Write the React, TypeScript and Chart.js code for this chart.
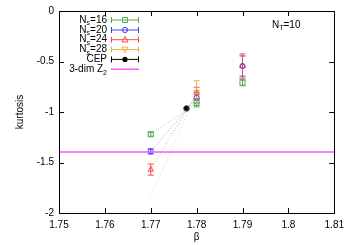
import React, { useEffect, useRef } from "react";
import { Chart, registerables } from "chart.js";
Chart.register(...registerables);

// ---- data ----
const betas = [1.77, 1.78, 1.79];
const ns16 = [-1.22, -0.91, -0.71];
const ns16Err = [0.02, 0.04, 0.03];
const ns20 = [-1.39, -0.86, -0.545];
const ns20Err = [0.025, 0.05, 0.1];
const ns24 = [-1.57, -0.815, -0.545];
const ns24Err = [0.055, 0.06, 0.12];
const ns28Betas = [1.78];
const ns28 = [-0.8];
const ns28Err = [0.11];
// dotted connection lines (beta 1.77 -> 1.78)
const lineBetas = [1.77, 1.78];
const ns16Line = [-1.22, -0.91];
const ns20Line = [-1.39, -0.86];
const ns24Line = [-1.57, -0.815];
const ns28Line = [-1.84, -0.8];
const cepBeta = [1.7778];
const cepValue = [-0.965];
const z2Beta = [1.75, 1.81];
const z2Value = [-1.396, -1.396];
const xTicks = [1.75, 1.76, 1.77, 1.78, 1.79, 1.8, 1.81];
const yTicks = [0, -0.5, -1, -1.5, -2];
const xLabel = "β";
const yLabel = "kurtosis";

const GREEN = "#4fae4f";
const BLUE = "#3f3fff";
const RED = "#ff4a4a";
const ORANGE = "#f2b03a";
const MAGENTA = "#ff55ff";
const BLACK = "#000000";
const FONT = '"Liberation Sans", Arial, sans-serif';

const pts = (xs: number[], ys: number[]) => xs.map((x, i) => ({ x, y: ys[i] }));

type LegendItem = {
  main: string;
  sub: string;
  tail: string;
  color: string;
  marker: string;
  bars: boolean;
};
const legendItems: LegendItem[] = [
  { main: "N", sub: "s", tail: "=16", color: GREEN, marker: "square", bars: true },
  { main: "N", sub: "s", tail: "=20", color: BLUE, marker: "circle", bars: true },
  { main: "N", sub: "s", tail: "=24", color: RED, marker: "tri", bars: true },
  { main: "N", sub: "s", tail: "=28", color: ORANGE, marker: "tridown", bars: true },
  { main: "CEP", sub: "", tail: "", color: BLACK, marker: "dot", bars: true },
  { main: "3-dim Z", sub: "2", tail: "", color: MAGENTA, marker: "none", bars: false },
];

function drawMarker(ctx: CanvasRenderingContext2D, kind: string, x: number, y: number, color: string) {
  ctx.save();
  ctx.strokeStyle = color;
  ctx.fillStyle = color;
  ctx.lineWidth = 1;
  ctx.beginPath();
  if (kind === "square") {
    ctx.rect(x - 2.5, y - 2.5, 5, 5);
    ctx.stroke();
  } else if (kind === "circle") {
    ctx.arc(x, y, 2.6, 0, Math.PI * 2);
    ctx.stroke();
  } else if (kind === "tri") {
    ctx.moveTo(x, y - 3.2);
    ctx.lineTo(x + 3, y + 2.3);
    ctx.lineTo(x - 3, y + 2.3);
    ctx.closePath();
    ctx.stroke();
  } else if (kind === "tridown") {
    ctx.moveTo(x, y + 3.2);
    ctx.lineTo(x + 3, y - 2.3);
    ctx.lineTo(x - 3, y - 2.3);
    ctx.closePath();
    ctx.stroke();
  } else if (kind === "dot") {
    ctx.arc(x, y, 2.6, 0, Math.PI * 2);
    ctx.fill();
  }
  ctx.restore();
}

function drawRich(ctx: CanvasRenderingContext2D, main: string, sub: string, tail: string, x: number, y: number, align: "left" | "right") {
  ctx.save();
  ctx.fillStyle = "#000";
  ctx.textBaseline = "middle";
  ctx.textAlign = "left";
  const big = `10px ${FONT}`;
  const small = `7px ${FONT}`;
  ctx.font = big;
  const w1 = ctx.measureText(main).width;
  const w3 = ctx.measureText(tail).width;
  ctx.font = small;
  const w2 = ctx.measureText(sub).width;
  const total = w1 + w2 + w3;
  let cx = align === "right" ? x - total : x;
  ctx.font = big;
  ctx.fillText(main, cx, y);
  cx += w1;
  ctx.font = small;
  ctx.fillText(sub, cx, y + 3.5);
  cx += w2;
  ctx.font = big;
  ctx.fillText(tail, cx, y);
  ctx.restore();
}

const gnuplotPlugin = {
  id: "gnuplotDecor",
  beforeDatasetsDraw(chart: any) {
    // error bars
    const ctx = chart.ctx as CanvasRenderingContext2D;
    const ys = chart.scales.y;
    chart.data.datasets.forEach((ds: any, di: number) => {
      if (!ds.errors) return;
      const meta = chart.getDatasetMeta(di);
      meta.data.forEach((el: any, i: number) => {
        const e = ds.errors[i];
        if (!e) return;
        const v = ds.data[i].y;
        const yTop = ys.getPixelForValue(v + e);
        const yBot = ys.getPixelForValue(v - e);
        const x = el.x;
        ctx.save();
        ctx.strokeStyle = ds.borderColor;
        ctx.lineWidth = 1;
        ctx.beginPath();
        ctx.moveTo(x, yTop);
        ctx.lineTo(x, yBot);
        ctx.moveTo(x - 3, yTop);
        ctx.lineTo(x + 3, yTop);
        ctx.moveTo(x - 3, yBot);
        ctx.lineTo(x + 3, yBot);
        ctx.stroke();
        ctx.restore();
      });
    });
  },
  afterDraw(chart: any) {
    const ctx = chart.ctx as CanvasRenderingContext2D;
    const a = chart.chartArea;
    const xs = chart.scales.x;
    const ys = chart.scales.y;
    ctx.save();
    ctx.strokeStyle = "#000";
    ctx.lineWidth = 1;
    // frame
    ctx.strokeRect(Math.round(a.left) + 0.5, Math.round(a.top) + 0.5, Math.round(a.right - a.left), Math.round(a.bottom - a.top));
    ctx.beginPath();
    xTicks.forEach((v) => {
      const px = Math.round(xs.getPixelForValue(v)) + 0.5;
      ctx.moveTo(px, a.bottom);
      ctx.lineTo(px, a.bottom - 5);
      ctx.moveTo(px, a.top);
      ctx.lineTo(px, a.top + 5);
    });
    yTicks.forEach((v) => {
      const py = Math.round(ys.getPixelForValue(v)) + 0.5;
      ctx.moveTo(a.left, py);
      ctx.lineTo(a.left + 5, py);
      ctx.moveTo(a.right, py);
      ctx.lineTo(a.right - 5, py);
    });
    ctx.stroke();
    ctx.restore();

    // legend
    const rows = [20, 30, 39.7, 49.5, 59.4, 69.2];
    legendItems.forEach((it, i) => {
      const y = rows[i];
      drawRich(ctx, it.main, it.sub, it.tail, 107, y, "right");
      ctx.save();
      ctx.strokeStyle = it.color;
      ctx.lineWidth = it.bars ? 1 : 1.5;
      ctx.beginPath();
      ctx.moveTo(111, y);
      ctx.lineTo(139, y);
      if (it.bars) {
        ctx.moveTo(111.5, y - 3);
        ctx.lineTo(111.5, y + 3);
        ctx.moveTo(138.5, y - 3);
        ctx.lineTo(138.5, y + 3);
      }
      ctx.stroke();
      ctx.restore();
      drawMarker(ctx, it.marker, 125, y, it.color);
    });

    drawRich(ctx, "N", "T", "=10", 272, 25, "left");
  },
};

const dotted = (label: string, ys: number[], color: string) => ({
  type: "line" as const,
  label,
  data: pts(lineBetas, ys),
  borderColor: color + "aa",
  borderWidth: 0.8,
  borderDash: [1, 2],
  pointRadius: 0,
  showLine: true,
  fill: false,
});

const marks = (label: string, xs: number[], ys: number[], errs: number[], color: string, style: string, rot = 0, radius = 3) => ({
  type: "scatter" as const,
  label,
  data: pts(xs, ys),
  errors: errs,
  borderColor: color,
  backgroundColor: "rgba(0,0,0,0)",
  pointStyle: style,
  pointRotation: rot,
  pointRadius: radius,
  pointBorderWidth: 1,
  showLine: false,
});

export default function App() {
  const ref = useRef<HTMLCanvasElement | null>(null);
  useEffect(() => {
    if (!ref.current) return;
    const chart = new Chart(ref.current, {
      type: "scatter",
      data: {
        datasets: [
          {
            type: "line",
            label: "3-dim Z2",
            data: pts(z2Beta, z2Value),
            borderColor: MAGENTA,
            borderWidth: 1.5,
            pointRadius: 0,
            showLine: true,
            fill: false,
          },
          dotted("fit16", ns16Line, GREEN),
          dotted("fit20", ns20Line, BLUE),
          dotted("fit24", ns24Line, RED),
          dotted("fit28", ns28Line, ORANGE),
          marks("Ns=16", betas, ns16, ns16Err, GREEN, "rect", 0, 3.6),
          marks("Ns=20", betas, ns20, ns20Err, BLUE, "circle", 0, 2.6),
          marks("Ns=24", betas, ns24, ns24Err, RED, "triangle", 0, 3.2),
          marks("Ns=28", ns28Betas, ns28, ns28Err, ORANGE, "triangle", 180, 3.2),
          {
            type: "scatter",
            label: "CEP",
            data: pts(cepBeta, cepValue),
            borderColor: "#444",
            backgroundColor: BLACK,
            pointStyle: "circle",
            pointRadius: 2.8,
            pointBorderWidth: 1,
          },
        ] as any,
      },
      options: {
        animation: false,
        responsive: false,
        events: [],
        layout: { padding: { top: 11, right: 14, left: 0, bottom: 0 } },
        plugins: { legend: { display: false }, tooltip: { enabled: false } },
        scales: {
          x: {
            type: "linear",
            min: 1.75,
            max: 1.81,
            grid: { display: false, drawTicks: false },
            border: { display: false },
            afterBuildTicks: (s: any) => {
              s.ticks = xTicks.map((v) => ({ value: v }));
            },
            afterFit: (s: any) => {
              s.height = 32;
            },
            ticks: {
              autoSkip: false,
              maxRotation: 0,
              padding: 6,
              color: "#000",
              font: { family: FONT, size: 10 },
              callback: (v: any) => String(Math.round(Number(v) * 100) / 100),
            },
            title: {
              display: true,
              text: xLabel,
              color: "#000",
              font: { family: FONT, size: 10 },
              padding: { top: 0, bottom: 2 },
            },
          },
          y: {
            type: "linear",
            min: -2,
            max: 0,
            grid: { display: false, drawTicks: false },
            border: { display: false },
            afterBuildTicks: (s: any) => {
              s.ticks = yTicks.map((v) => ({ value: v }));
            },
            afterFit: (s: any) => {
              s.width = 59;
            },
            ticks: {
              padding: 5,
              color: "#000",
              font: { family: FONT, size: 10 },
              callback: (v: any) => String(Math.round(Number(v) * 10) / 10),
            },
            title: {
              display: true,
              text: yLabel,
              color: "#000",
              font: { family: FONT, size: 10 },
              padding: { top: 14, bottom: 0 },
            },
          },
        },
      },
      plugins: [gnuplotPlugin],
    });
    return () => chart.destroy();
  }, []);
  return (
    <div style={{ position: "absolute", left: 0, top: 0, width: 350, height: 245, background: "#fff" }}>
      <canvas ref={ref} width={350} height={245} style={{ width: 350, height: 245, display: "block" }} />
    </div>
  );
}
